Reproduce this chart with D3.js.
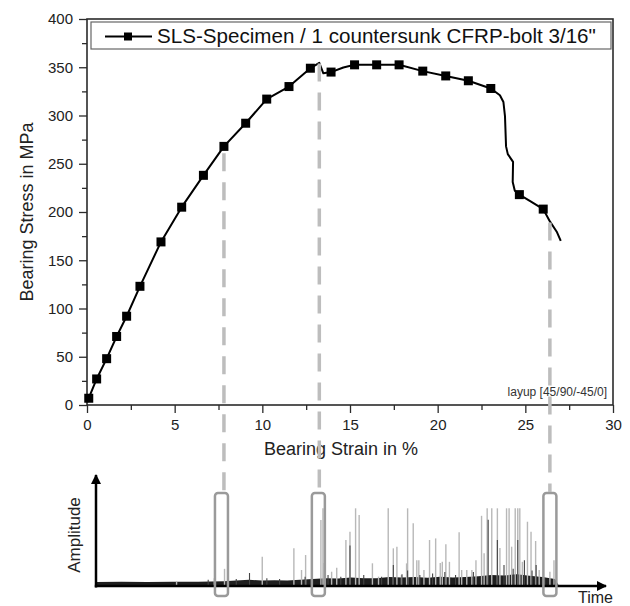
<!DOCTYPE html>
<html>
<head>
<meta charset="utf-8">
<script src="https://cdn.jsdelivr.net/npm/d3@7"></script>
<style>
  body { margin: 0; background: #fff; }
  svg { font-family: "Liberation Sans", Arial, sans-serif; }
</style>
</head>
<body>
<div id="chart"></div>
<script>
// bearing curve (full line)
const lineStrain = [0.05, 0.1, 0.55, 1.12, 1.69, 2.26, 3.02, 4.22, 5.40, 6.64, 7.81, 9.05, 10.25, 11.52, 12.74,
    13.25, 13.48, 13.92, 14.62, 15.26, 16.52, 17.8, 19.15, 20.46, 21.75, 23.03, 23.55, 23.75, 23.84, 23.9,
    24.0, 24.3, 24.28, 24.4, 24.66, 25.3, 26.02, 26.41, 26.79, 27.02];
const lineStress = [3, 7, 27, 48, 71, 92, 123, 169, 205, 238, 268, 292, 317, 330, 349,
    354.5, 343.7, 345, 349.8, 352.5, 352.5, 352.5, 346, 341, 336, 328, 321, 314, 299, 268,
    260, 252, 231, 222, 218, 211, 203, 190, 179.6, 170];

// square markers
const markerStrain = [0.1, 0.55, 1.12, 1.69, 2.26, 3.02, 4.22, 5.40, 6.64, 7.81, 9.05, 10.25, 11.52, 12.74,
    13.92, 15.26, 16.52, 17.8, 19.15, 20.46, 21.75, 23.03, 24.66, 26.02];
const markerStress = [7, 27, 48, 71, 92, 123, 169, 205, 238, 268, 292, 317, 330, 349,
    345, 352.5, 352.5, 352.5, 346, 341, 336, 328, 218, 203];

const xTicks = [0, 5, 10, 15, 20, 25, 30];
const yTicks = [0, 50, 100, 150, 200, 250, 300, 350, 400];

// dashed links: strain position and stress where the dash starts
const linkStrain = [7.81, 13.25, 26.4];
const linkStress = [261, 354, 189];
// AE windows (time units) around each link
const windowTime = [24.6, 43.6, 89.0];

// acoustic emission hits: time (0-100) and amplitude (0-100)
const lightTime = [15.8, 23.2, 25.2, 32.6, 38.8, 40.3, 41.1, 44.1, 44.5, 44.7, 46.2, 47.2, 49.0, 49.8, 50.9, 51.6,
    54.2, 55.4, 57.3, 58.3, 59.0, 59.9, 60.9, 61.1, 62.2, 62.9, 63.3, 64.3, 65.4, 66.6, 67.5, 67.9, 68.6, 69.3,
    71.2, 71.7, 72.7, 73.7, 74.5, 75.6, 76.1, 76.7, 77.6, 78.7, 79.2, 80.5, 81.0, 81.5, 82.2, 82.7, 83.1, 83.6,
    84.6, 85.3, 86.2, 86.9, 89.0, 89.8];
const lightAmp = [5.5, 10, 22, 37.6, 48.3, 20.5, 39.7, 84.6, 99.6, 29.5, 18.3, 23.5, 59, 69.6, 99.6, 91,
    29.1, 12, 99.6, 48.3, 50.4, 14, 29, 99.6, 80.4, 33, 33, 20.5, 59, 61, 29.5, 31, 53.5, 31,
    69, 20.5, 20.5, 20.5, 33, 90, 42, 99.6, 99.6, 99.6, 48.7, 99.6, 99.6, 50.4, 99.6, 99.6, 99.6, 31,
    82.4, 69.6, 57.7, 20.5, 18.3, 33];
const darkTime = [22.0, 27.5, 30.1, 33.5, 36.0, 41.0, 45.5, 48.0, 49.8, 52.5, 56.0, 58.3, 60.0, 61.1, 63.5,
    66.0, 68.4, 70.5, 74.0, 76.9, 78.7, 80.0, 81.8, 82.7, 84.0, 85.5, 86.3, 88.0];
const darkAmp = [8, 9, 16.7, 10, 9, 12, 14, 12, 52, 14, 12, 27, 15, 20, 14,
    16, 18, 14, 18, 85, 59, 27, 22, 59, 33, 20, 27, 10];

// background noise level along the time axis
const noiseTime = [0, 5, 10, 15, 20, 25, 27.5, 30, 32.5, 35, 37.5, 40, 42.5, 45, 47.5, 50, 52.5, 55, 57.5, 60,
    62.5, 65, 67.5, 70, 72.5, 75, 77.5, 80, 82.5, 85, 87.5, 90, 90.8];
const noiseAmp = [5, 5.5, 5, 5.5, 5.5, 6, 7, 8, 7, 7.5, 7, 8, 9, 10, 9.5, 11, 10, 10, 11.5, 11,
    11.5, 10.5, 12, 11, 11.5, 12.5, 14, 13.5, 15, 13, 11.5, 9, 0];

const W = 630, H = 606;
const svg = d3.select("#chart").append("svg").attr("width", W).attr("height", H);

const x = d3.scaleLinear().domain([0, 30]).range([87, 613]);
const y = d3.scaleLinear().domain([0, 400]).range([405, 19]);
const t = d3.scaleLinear().domain([0, 100]).range([96, 606]);
const a = d3.scaleLinear().domain([0, 100]).range([586, 508]);

const ink = "#2b2b2b";

// axes with minor ticks
const xMinor = d3.range(0, 30.01, 2.5).filter(v => v % 5 !== 0);
const yMinor = d3.range(0, 400.01, 25).filter(v => v % 50 !== 0);

svg.append("g").attr("transform", "translate(0,405)")
    .call(d3.axisBottom(x).tickValues(xTicks).tickSize(8).tickPadding(6).tickFormat(d3.format("d")));
svg.append("g").attr("transform", "translate(0,405)")
    .call(d3.axisBottom(x).tickValues(xMinor).tickSize(5).tickFormat(""));
svg.append("g").attr("transform", "translate(87,0)")
    .call(d3.axisLeft(y).tickValues(yTicks).tickSize(8).tickPadding(6));
svg.append("g").attr("transform", "translate(87,0)")
    .call(d3.axisLeft(y).tickValues(yMinor).tickSize(5).tickFormat(""));

svg.selectAll(".domain").remove();
svg.selectAll(".tick line").attr("stroke", ink).attr("stroke-width", 1.3);
svg.selectAll(".tick text").attr("fill", "#222").style("font-size", "15px")
    .style("font-family", "'Liberation Sans', Arial, sans-serif");

// frame
svg.append("rect")
    .attr("x", x(0)).attr("y", y(400))
    .attr("width", x(30) - x(0)).attr("height", y(0) - y(400))
    .attr("fill", "none").attr("stroke", ink).attr("stroke-width", 1.6);

// axis titles
svg.append("text")
    .attr("transform", `translate(33,${(y(0) + y(400)) / 2}) rotate(-90)`)
    .attr("text-anchor", "middle")
    .attr("fill", "#222").style("font-size", "18px")
    .text("Bearing Stress in MPa");

svg.append("text")
    .attr("x", 341).attr("y", 455)
    .attr("text-anchor", "middle")
    .attr("fill", "#222").style("font-size", "18px")
    .text("Bearing Strain in %");

svg.append("text")
    .attr("x", 607).attr("y", 396)
    .attr("text-anchor", "end")
    .attr("fill", "#333").style("font-size", "12px")
    .text("layup [45/90/-45/0]");

// legend
svg.append("rect")
    .attr("x", 91).attr("y", 22).attr("width", 520).attr("height", 27)
    .attr("fill", "#fff").attr("stroke", "#666").attr("stroke-width", 1.2);
svg.append("line")
    .attr("x1", 105).attr("x2", 152).attr("y1", 36.5).attr("y2", 36.5)
    .attr("stroke", "#000").attr("stroke-width", 2);
svg.append("rect")
    .attr("x", 124).attr("y", 32.5).attr("width", 8).attr("height", 8).attr("fill", "#000");
svg.append("text")
    .attr("x", 157).attr("y", 43)
    .attr("fill", "#111").style("font-size", "20.6px")
    .text("SLS-Specimen / 1 countersunk CFRP-bolt 3/16\"");

// curve
const curve = lineStrain.map((s, i) => [s, lineStress[i]]);
svg.append("path")
    .datum(curve)
    .attr("fill", "none").attr("stroke", "#000").attr("stroke-width", 2)
    .attr("stroke-linejoin", "round")
    .attr("d", d3.line().x(d => x(d[0])).y(d => y(d[1])));

svg.selectAll(".marker")
    .data(markerStrain.map((s, i) => [s, markerStress[i]]))
    .enter().append("rect")
    .attr("class", "marker")
    .attr("x", d => x(d[0]) - 4.5).attr("y", d => y(d[1]) - 4.5)
    .attr("width", 9).attr("height", 9)
    .attr("fill", "#000");

// lower panel: AE signal
const noise = noiseTime.map((v, i) => [v, noiseAmp[i]]);
svg.append("path")
    .datum(noise)
    .attr("fill", "#1e1e1e")
    .attr("d", d3.area().x(d => t(d[0])).y0(a(0)).y1(d => a(d[1])));

svg.selectAll(".hitL")
    .data(lightTime.map((v, i) => [v, lightAmp[i]]))
    .enter().append("line")
    .attr("x1", d => t(d[0])).attr("x2", d => t(d[0]))
    .attr("y1", a(0)).attr("y2", d => a(d[1]))
    .attr("stroke", "#b8b8b8").attr("stroke-width", 1.4);

svg.selectAll(".hitD")
    .data(darkTime.map((v, i) => [v, darkAmp[i]]))
    .enter().append("line")
    .attr("x1", d => t(d[0])).attr("x2", d => t(d[0]))
    .attr("y1", a(0)).attr("y2", d => a(d[1]))
    .attr("stroke", "#444").attr("stroke-width", 1.1);

// arrows
const defs = svg.append("defs");
defs.append("marker").attr("id", "arr")
    .attr("viewBox", "0 0 10 10").attr("refX", 9).attr("refY", 5)
    .attr("markerWidth", 4).attr("markerHeight", 4).attr("orient", "auto")
    .append("path").attr("d", "M0,0 L10,5 L0,10 Z").attr("fill", "#000");

svg.append("line")
    .attr("x1", t(0)).attr("x2", t(0)).attr("y1", a(0) + 1.5).attr("y2", 475)
    .attr("stroke", "#000").attr("stroke-width", 2.5).attr("marker-end", "url(#arr)");
svg.append("line")
    .attr("x1", t(0) - 1.2).attr("x2", t(100)).attr("y1", a(0)).attr("y2", a(0))
    .attr("stroke", "#000").attr("stroke-width", 2.5).attr("marker-end", "url(#arr)");

svg.append("text")
    .attr("transform", `translate(80,535) rotate(-90)`)
    .attr("text-anchor", "middle")
    .attr("fill", "#222").style("font-size", "17px")
    .text("Amplitude");
svg.append("text")
    .attr("x", 578).attr("y", 603)
    .attr("fill", "#222").style("font-size", "16px")
    .text("Time");

// windows
svg.selectAll(".win")
    .data(windowTime)
    .enter().append("rect")
    .attr("x", d => t(d) - 6.5).attr("y", 493)
    .attr("width", 13).attr("height", 103)
    .attr("rx", 3)
    .attr("fill", "none").attr("stroke", "#9a9a9a").attr("stroke-width", 2.5);

// dashed links from curve to windows
svg.selectAll(".link")
    .data(linkStrain.map((s, i) => [s, linkStress[i]]))
    .enter().append("line")
    .attr("x1", d => x(d[0])).attr("x2", d => x(d[0]))
    .attr("y1", d => y(d[1])).attr("y2", 492)
    .attr("stroke", "#bdbdbd").attr("stroke-width", 3.5)
    .attr("stroke-dasharray", "18,11");
</script>
</body>
</html>
